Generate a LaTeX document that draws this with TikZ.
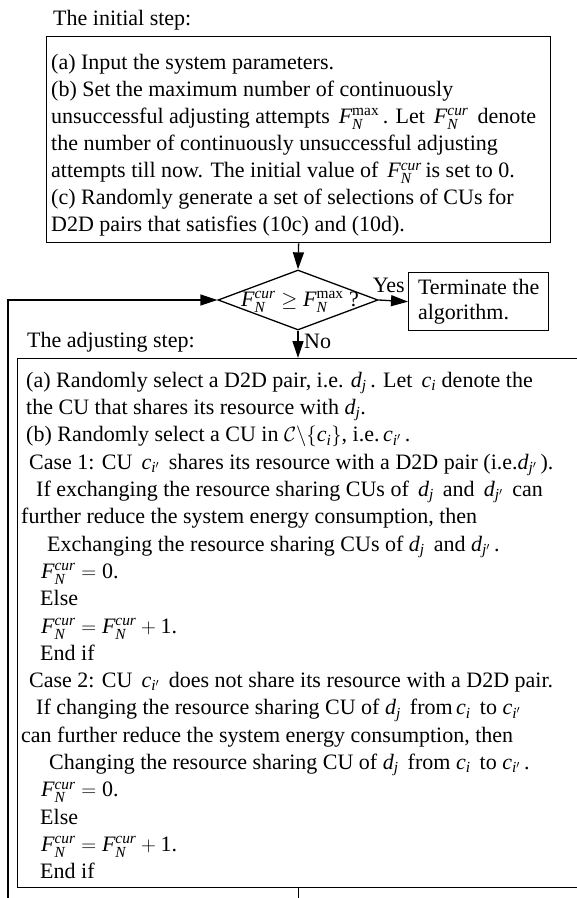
\documentclass[tikz,border=0pt]{standalone}
\usepackage{amsmath}
\usepackage{fontspec}
\setmainfont{Liberation Serif}
\usetikzlibrary{arrows.meta,shapes.geometric}
\lineskiplimit=-100pt
\newcommand{\Fcur}{\mathit{F}_{\mathit{N}}^{\mathit{cur}}}
\newcommand{\Fmax}{\mathit{F}_{\mathit{N}}^{\text{max}}}
\newcommand{\vd}[1]{\mathit{d}_{\mathit{#1}}}
\newcommand{\vc}[1]{\mathit{c}_{\mathit{#1}}}
\newcommand{\zero}{\text{0.}}
\newcommand{\one}{\text{1.}}
\tikzset{
  every node/.style={font=\fontsize{22bp}{27.1bp}\selectfont, inner sep=0pt},
  box/.style={draw, line width=1.3bp},
  conn/.style={line width=1.3bp},
  arr/.style={conn, -{Triangle[length=17bp,width=11bp]}},
  txt/.style={align=left, anchor=north west},
}
\begin{document}
\begin{tikzpicture}[x=1bp,y=-1bp]
\useasboundingbox (0,0) rectangle (577,898);
% titles
\node[anchor=base west] (t1) at (53,25) {The initial step:};
\node[anchor=base west] (t2) at (27,347) {The adjusting step:};
% initial box
\node[box, anchor=north west, minimum width=504bp, minimum height=206bp] (init) at (46,36) {};
\node[txt] (itext) at (51,50) {\strut(a) Input the system parameters.\\
(b) Set the maximum number of continuously\\
unsuccessful adjusting attempts $\,\Fmax$\,. Let $\,\Fcur$\, denote\\
the number of continuously unsuccessful adjusting\\
attempts till now. The initial value of $\,\Fcur$\,is set to 0.\\
(c) Randomly generate a set of selections of CUs for\\
D2D pairs that satisfies (10c) and (10d).};
% decision
\node[draw, line width=1.3bp, diamond, aspect=2.667, minimum width=160bp, minimum height=60bp, inner sep=0pt] (dia) at (298,300) {};
\node (dtext) at (300,302) {$\Fcur \geq \Fmax$ ?};
% terminate
\node[box, anchor=north west, minimum width=140bp, minimum height=58bp, align=left, font=\fontsize{22bp}{25bp}\selectfont] (term) at (408,272) {Terminate the\\algorithm.};
\node[anchor=base east] (yes) at (405,292) {Yes};
\node[anchor=base west] (no) at (304,348) {No};
% adjusting box
\node[box, anchor=north west, minimum width=561.5bp, minimum height=529bp] (adj) at (17,358) {};
\node[txt, font=\fontsize{22bp}{27.3bp}\selectfont] (atext) at (21,368) {\strut\hspace{5bp}(a) Randomly select a D2D pair, i.e. $\vd{j}$\,. Let \,$\vc{i}$ denote the\\
\hspace{5bp}the CU that shares its resource with $\vd{j}$.\\
\hspace{5bp}(b) Randomly select a CU in $\mathcal{C}\backslash\{\vc{i}\}$, i.e.\,$\vc{i'}$\,.\\
\hspace{8bp}Case 1: CU \,$\vc{i'}$\, shares its resource with a D2D pair (i.e.$\vd{j'}$\,).\\
\hspace{15bp}If exchanging the resource sharing CUs of \,$\vd{j}$\, and \,$\vd{j'}$\, can\\
further reduce the system energy consumption, then\\
\hspace{26bp}Exchanging the resource sharing CUs of $\vd{j}$\, and $\vd{j'}$\,.\\
\hspace{20bp}$\Fcur = \zero$\\
\hspace{19bp}Else\\
\hspace{20bp}$\Fcur = \Fcur + \one$\\
\hspace{19bp}End if\\
\hspace{8bp}Case 2: CU \,$\vc{i'}$\, does not share its resource with a D2D pair.\\
\hspace{15bp}If changing the resource sharing CU of $\vd{j}$\, from$\,\vc{i}$\, to $\vc{i'}$\\
can further reduce the system energy consumption, then\\
\hspace{28bp}Changing the resource sharing CU of $\vd{j}$\, from $\vc{i}$\, to $\vc{i'}$\,.\\
\hspace{20bp}$\Fcur = \zero$\\
\hspace{19bp}Else\\
\hspace{20bp}$\Fcur = \Fcur + \one$\\
\hspace{19bp}End if};
% connectors
\coordinate (lb) at (8,898);
\coordinate (ab) at (298,898);
\draw[arr] (init.south) -- (dia.north);
\draw[arr] (dia.east) -- (term.west);
\draw[arr] (dia.south) -- (dia.south |- adj.north);
\draw[conn] (adj.south) -- (adj.south |- ab);
\draw[arr] (lb) |- (dia.west);
\end{tikzpicture}
\end{document}
